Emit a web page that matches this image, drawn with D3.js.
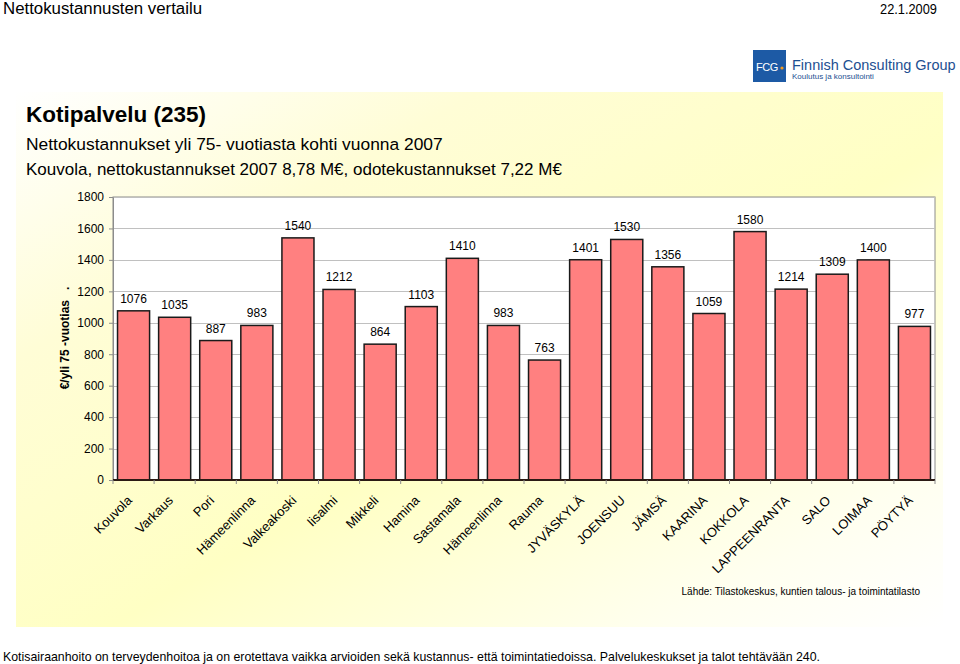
<!DOCTYPE html>
<html><head><meta charset="utf-8">
<script src="https://cdn.jsdelivr.net/npm/d3@7"></script>
<style>
body{margin:0;background:#fff;}
svg{display:block;}
text{font-family:"Liberation Sans",Arial,sans-serif;}
</style></head>
<body>
<svg id="c" width="960" height="664"></svg>
<script>
const categories = ["Kouvola","Varkaus","Pori","Hämeenlinna","Valkeakoski","Iisalmi","Mikkeli","Hamina","Sastamala","Hämeenlinna","Rauma","JYVÄSKYLÄ","JOENSUU","JÄMSÄ","KAARINA","KOKKOLA","LAPPEENRANTA","SALO","LOIMAA","PÖYTYÄ"];
const values = [1076,1035,887,983,1540,1212,864,1103,1410,983,763,1401,1530,1356,1059,1580,1214,1309,1400,977];
const yTicks = [0,200,400,600,800,1000,1200,1400,1600,1800];

const svg = d3.select("#c");
const defs = svg.append("defs");
const g1 = defs.append("linearGradient").attr("id","bg").attr("x1","0").attr("y1","0").attr("x2","1").attr("y2","1");
g1.append("stop").attr("offset","0").attr("stop-color","#ffffff");
g1.append("stop").attr("offset","0.25").attr("stop-color","#fffdd6");
g1.append("stop").attr("offset","0.55").attr("stop-color","#ffffc4");
g1.append("stop").attr("offset","0.85").attr("stop-color","#fffff0");
g1.append("stop").attr("offset","1").attr("stop-color","#ffffff");

svg.append("rect").attr("x",16).attr("y",92).attr("width",927).attr("height",535).attr("fill","url(#bg)");

// header
svg.append("text").attr("x",3).attr("y",14).attr("font-size",16).attr("textLength",199).attr("lengthAdjust","spacingAndGlyphs").text("Nettokustannusten vertailu");
svg.append("text").attr("x",880).attr("y",14).attr("font-size",15).attr("textLength",57).attr("lengthAdjust","spacingAndGlyphs").text("22.1.2009");

// logo
svg.append("rect").attr("x",753).attr("y",50).attr("width",33).attr("height",32).attr("fill","#1d5aa5");
svg.append("text").attr("x",756).attr("y",71).attr("font-size",11).attr("fill","#fff").attr("letter-spacing","-0.5").text("FCG");
svg.append("circle").attr("cx",782).attr("cy",68).attr("r",1.6).attr("fill","#f39a1e");
svg.append("text").attr("x",792).attr("y",70).attr("font-size",14.5).attr("fill","#1d4f91").text("Finnish Consulting Group");
svg.append("text").attr("x",792).attr("y",79).attr("font-size",8).attr("fill","#1d4f91").text("Koulutus ja konsultointi");

// titles
svg.append("text").attr("x",26).attr("y",122).attr("font-size",22.5).attr("font-weight","bold").text("Kotipalvelu (235)");
svg.append("text").attr("x",26).attr("y",150).attr("font-size",17.4).text("Nettokustannukset yli 75- vuotiasta kohti vuonna 2007");
svg.append("text").attr("x",26).attr("y",175).attr("font-size",17).text("Kouvola, nettokustannukset 2007 8,78 M€, odotekustannukset 7,22 M€");

// chart
const L=113, R=935, T=197, B=480;
const x = d3.scaleBand().domain(d3.range(categories.length)).range([L,R]).paddingInner(0.22).paddingOuter(0.11);
const y = d3.scaleLinear().domain([0,1800]).range([B,T]);

svg.append("rect").attr("x",L).attr("y",T).attr("width",R-L).attr("height",B-T).attr("fill","#ffffff").attr("stroke","#8c8c8c").attr("stroke-width",1);

svg.append("g").selectAll("line").data(yTicks.filter(d=>d>0)).join("line")
  .attr("x1",L).attr("x2",R).attr("y1",d=>Math.round(y(d))+0.5).attr("y2",d=>Math.round(y(d))+0.5)
  .attr("stroke","#c0c0c0").attr("stroke-width",1.2);

const ya = svg.append("g").attr("transform",`translate(${L},0)`)
  .call(d3.axisLeft(y).tickValues(yTicks).tickFormat(d3.format("d")).tickSize(4).tickPadding(5));
ya.select(".domain").attr("stroke","#8c8c8c");
ya.selectAll(".tick line").attr("stroke","#8c8c8c");
ya.selectAll(".tick text").attr("font-size",12).attr("fill","#000").attr("font-family","'Liberation Sans',Arial,sans-serif");

svg.append("g").selectAll("rect").data(values).join("rect")
  .attr("x",(d,i)=>x(i)).attr("width",x.bandwidth())
  .attr("y",d=>y(d)).attr("height",d=>B-y(d))
  .attr("fill","#ff8080").attr("stroke","#1a1a1a").attr("stroke-width",1.5);

svg.append("g").selectAll("text").data(values).join("text")
  .attr("x",(d,i)=>x(i)+x.bandwidth()/2).attr("y",d=>y(d)-8)
  .attr("text-anchor","middle").attr("font-size",12).attr("fill","#000").text(d=>d);

const step = x.step();
svg.append("line").attr("x1",L).attr("x2",R).attr("y1",B).attr("y2",B).attr("stroke","#2b1a14").attr("stroke-width",2);
svg.append("g").selectAll("line").data(d3.range(categories.length+1)).join("line")
  .attr("x1",i=>L+i*step).attr("x2",i=>L+i*step).attr("y1",B).attr("y2",B+4)
  .attr("stroke","#8c8c8c");

svg.append("g").selectAll("text").data(categories).join("text")
  .attr("transform",(d,i)=>`translate(${x(i)+x.bandwidth()/2-4},${B+18}) rotate(-45)`)
  .attr("text-anchor","end").attr("dy","0.35em").attr("font-size",13).attr("fill","#000").text(d=>d);

svg.append("text").attr("transform","translate(69,338) rotate(-90)").attr("text-anchor","middle")
  .attr("font-size",12).attr("font-weight","bold").attr("xml:space","preserve").text("€/yli 75 -vuotias   .");

svg.append("text").attr("x",920).attr("y",595).attr("text-anchor","end").attr("font-size",10).text("Lähde: Tilastokeskus, kuntien talous- ja toimintatilasto");

svg.append("text").attr("x",3).attr("y",661).attr("font-size",13.5).attr("textLength",817).attr("lengthAdjust","spacingAndGlyphs").text("Kotisairaanhoito on terveydenhoitoa ja on erotettava vaikka arvioiden sekä kustannus- että toimintatiedoissa. Palvelukeskukset ja talot tehtävään 240.");
</script>
</body></html>
